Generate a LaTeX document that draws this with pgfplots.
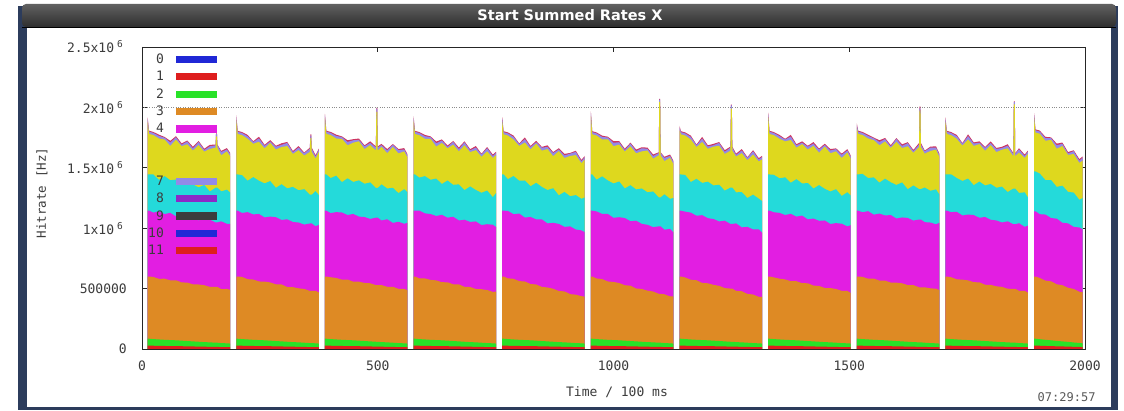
\documentclass[border=0pt]{standalone}
\usepackage{fontspec}
\setmonofont{DejaVu Sans Mono}
\newfontfamily\titlefont{DejaVu Sans}
\usepackage{pgfplots}
\usepackage{pgfplotstable}
\pgfplotsset{compat=1.18}
\definecolor{cR}{RGB}{222,30,30}
\definecolor{cG}{RGB}{40,226,40}
\definecolor{cO}{RGB}{222,138,36}
\definecolor{cM}{RGB}{226,30,226}
\definecolor{cC}{RGB}{36,218,218}
\definecolor{cY}{RGB}{222,216,30}
\definecolor{cP}{RGB}{146,138,232}
\definecolor{cT}{RGB}{206,52,96}
\definecolor{cB}{RGB}{32,40,214}
\definecolor{cV}{RGB}{140,40,200}
\definecolor{cK}{RGB}{60,60,60}
\definecolor{frameblue}{RGB}{44,60,92}
\definecolor{txt}{RGB}{60,60,60}

\pgfplotstableread{
x R G O M C Y P T
12 0 0 0 0 0 0 0 0
12 28 85 600 1145 1445 1880 1905 1917
15 28 85 600 1145 1445 1781 1799 1807
24 27 82 596 1129 1445 1771 1789 1797
36 26 79 581 1139 1400 1742 1764 1774
48 25 76 582 1117 1431 1734 1749 1755
60 24 74 568 1127 1397 1681 1709 1723
72 24 72 569 1098 1403 1733 1753 1762
84 23 69 551 1106 1358 1679 1691 1702
96 22 66 550 1089 1390 1695 1719 1726
108 21 63 535 1094 1361 1643 1661 1674
120 20 60 534 1065 1338 1688 1714 1722
132 19 57 528 1073 1358 1634 1648 1658
144 18 55 514 1070 1304 1656 1678 1690
156 17 52 514 1048 1335 1667 1686 1692
157 17 52 514 1048 1335 1760 1779 1785
159 17 52 514 1048 1335 1760 1779 1785
160 17 52 514 1048 1335 1667 1686 1692
168 16 49 496 1057 1305 1604 1631 1640
180 16 47 497 1036 1319 1636 1652 1663
187 15 45 490 1035 1295 1595 1615 1623
187 0 0 0 0 0 0 0 0
200 0 0 0 0 0 0 0 0
200 28 85 600 1145 1445 1900 1925 1937
203 28 85 600 1145 1445 1780 1798 1806
212 27 82 597 1126 1439 1770 1788 1796
224 26 79 578 1133 1393 1740 1762 1772
236 25 76 575 1114 1423 1699 1714 1720
248 24 74 559 1118 1393 1715 1743 1757
260 24 72 558 1089 1371 1661 1681 1690
272 23 69 551 1096 1390 1706 1718 1729
284 22 66 535 1091 1334 1651 1675 1682
296 21 63 534 1068 1364 1672 1690 1703
308 20 60 513 1074 1330 1680 1706 1714
320 19 57 512 1051 1342 1615 1629 1639
332 18 55 502 1047 1314 1646 1668 1680
344 17 52 497 1030 1323 1601 1620 1626
356 16 49 481 1039 1277 1631 1658 1667
357 16 49 481 1039 1277 1745 1767 1776
359 16 49 481 1039 1277 1745 1767 1776
360 16 49 481 1039 1277 1631 1658 1667
368 16 47 481 1016 1307 1577 1593 1604
375 15 45 468 1027 1275 1630 1650 1658
375 0 0 0 0 0 0 0 0
388 0 0 0 0 0 0 0 0
388 28 85 600 1145 1445 1910 1935 1947
391 28 85 600 1145 1445 1781 1799 1807
400 27 82 594 1125 1415 1771 1789 1797
412 26 79 588 1133 1435 1742 1764 1774
424 25 76 574 1130 1381 1739 1754 1760
436 24 74 575 1109 1413 1686 1714 1728
448 24 72 557 1118 1383 1708 1728 1737
460 23 69 557 1096 1396 1719 1731 1742
472 22 66 547 1092 1368 1655 1679 1686
484 21 63 544 1077 1379 1688 1706 1719
496 20 60 529 1087 1333 1643 1669 1677
497 20 60 529 1087 1333 1963 1989 1997
499 20 60 529 1087 1333 1963 1989 1997
500 20 60 529 1087 1333 1643 1669 1677
508 19 57 529 1064 1363 1674 1688 1698
520 18 55 515 1074 1329 1621 1643 1655
532 17 52 515 1044 1334 1672 1691 1697
544 16 49 498 1053 1290 1619 1646 1655
556 16 47 498 1037 1323 1636 1652 1663
563 15 45 485 1044 1297 1585 1605 1613
563 0 0 0 0 0 0 0 0
576 0 0 0 0 0 0 0 0
576 28 85 600 1145 1445 1890 1915 1927
579 28 85 600 1145 1445 1780 1798 1806
588 27 82 585 1146 1419 1770 1788 1796
600 26 79 584 1123 1431 1740 1762 1772
612 25 76 572 1117 1401 1739 1754 1760
624 24 74 568 1101 1411 1675 1703 1717
636 24 72 553 1111 1366 1706 1726 1735
648 23 69 552 1087 1395 1661 1673 1684
660 22 66 536 1095 1359 1691 1715 1722
672 21 63 535 1064 1363 1637 1655 1668
684 20 60 515 1070 1315 1685 1711 1719
696 19 57 513 1052 1346 1630 1644 1654
708 18 55 497 1056 1316 1646 1668 1680
720 17 52 495 1026 1293 1591 1610 1616
732 16 49 488 1033 1312 1636 1663 1672
744 16 47 473 1029 1257 1582 1598 1609
751 15 45 475 1009 1291 1605 1625 1633
751 0 0 0 0 0 0 0 0
764 0 0 0 0 0 0 0 0
764 28 85 600 1145 1445 1880 1905 1917
767 28 85 600 1145 1445 1777 1795 1803
776 27 82 585 1143 1406 1767 1785 1793
788 26 79 581 1116 1432 1734 1756 1766
800 25 76 562 1121 1393 1681 1696 1702
812 24 74 559 1088 1395 1709 1737 1751
824 24 72 538 1093 1347 1652 1672 1681
836 23 69 534 1073 1376 1700 1712 1723
848 22 66 514 1073 1342 1642 1666 1673
860 21 63 509 1040 1316 1655 1673 1686
872 20 60 499 1044 1331 1596 1622 1630
884 19 57 480 1036 1272 1638 1652 1662
896 18 55 477 1011 1300 1581 1603 1615
908 17 52 454 1015 1265 1598 1617 1623
920 16 49 450 989 1274 1605 1632 1641
932 16 47 437 982 1243 1538 1554 1565
939 15 45 434 967 1255 1570 1590 1598
939 0 0 0 0 0 0 0 0
952 0 0 0 0 0 0 0 0
952 28 85 600 1145 1445 1930 1955 1967
955 28 85 600 1145 1445 1777 1795 1803
964 27 82 584 1139 1401 1767 1785 1793
976 26 79 579 1118 1429 1734 1756 1766
988 25 76 559 1118 1395 1736 1751 1757
1000 24 74 555 1086 1370 1679 1707 1721
1012 24 72 546 1091 1387 1692 1712 1721
1024 23 69 528 1084 1329 1635 1647 1658
1036 22 66 524 1058 1356 1677 1701 1708
1048 21 63 501 1062 1321 1620 1638 1651
1060 20 60 497 1036 1329 1636 1662 1670
1072 19 57 483 1028 1297 1643 1657 1667
1084 18 55 476 1009 1304 1576 1598 1610
1096 17 52 457 1015 1255 1603 1622 1628
1097 17 52 457 1015 1255 2045 2064 2070
1099 17 52 457 1015 1255 2045 2064 2070
1100 17 52 457 1015 1255 1603 1622 1628
1108 16 49 453 988 1281 1555 1582 1591
1120 16 47 435 994 1243 1583 1599 1610
1127 15 45 436 965 1250 1530 1550 1558
1127 0 0 0 0 0 0 0 0
1140 0 0 0 0 0 0 0 0
1140 28 85 600 1145 1445 1810 1835 1847
1143 28 85 600 1145 1445 1777 1795 1803
1152 27 82 592 1137 1441 1767 1785 1793
1164 26 79 573 1129 1382 1734 1756 1766
1176 25 76 569 1103 1409 1671 1686 1692
1188 24 74 547 1108 1375 1714 1742 1756
1200 24 72 544 1083 1385 1657 1677 1686
1212 23 69 531 1076 1354 1675 1687 1698
1224 22 66 523 1056 1360 1682 1706 1713
1236 21 63 504 1062 1311 1615 1633 1646
1248 20 60 500 1035 1336 1641 1667 1675
1249 20 60 500 1035 1336 1990 2016 2024
1251 20 60 500 1035 1336 1990 2016 2024
1252 20 60 500 1035 1336 1641 1667 1675
1260 19 57 481 1040 1297 1593 1607 1617
1272 18 55 478 1007 1299 1621 1643 1655
1284 17 52 456 1011 1250 1563 1582 1588
1296 16 49 451 990 1278 1610 1637 1646
1308 16 47 432 991 1245 1553 1569 1580
1315 15 45 432 963 1225 1570 1590 1598
1315 0 0 0 0 0 0 0 0
1328 0 0 0 0 0 0 0 0
1328 28 85 600 1145 1445 1920 1945 1957
1331 28 85 600 1145 1445 1780 1798 1806
1340 27 82 593 1132 1442 1770 1788 1796
1352 26 79 582 1127 1413 1740 1762 1772
1364 25 76 576 1109 1421 1719 1734 1740
1376 24 74 561 1119 1376 1730 1758 1772
1388 24 72 561 1096 1406 1666 1686 1695
1400 23 69 545 1104 1370 1696 1708 1719
1412 22 66 544 1073 1374 1651 1675 1682
1424 21 63 525 1080 1328 1682 1700 1713
1436 20 60 522 1061 1357 1625 1651 1659
1448 19 57 505 1064 1326 1675 1689 1699
1460 18 55 504 1035 1304 1621 1643 1655
1472 17 52 497 1042 1323 1636 1655 1661
1484 16 49 481 1037 1267 1581 1608 1617
1496 16 47 481 1015 1298 1627 1643 1654
1503 15 45 464 1025 1270 1575 1595 1603
1503 0 0 0 0 0 0 0 0
1516 0 0 0 0 0 0 0 0
1516 28 85 600 1145 1445 1830 1855 1867
1519 28 85 600 1145 1445 1781 1799 1807
1528 27 82 597 1132 1450 1771 1789 1797
1540 26 79 582 1141 1415 1742 1764 1774
1552 25 76 583 1112 1421 1729 1744 1750
1564 24 74 566 1121 1377 1686 1714 1728
1576 24 72 566 1105 1410 1718 1738 1747
1588 23 69 550 1109 1380 1664 1676 1687
1600 22 66 549 1080 1358 1715 1739 1746
1612 21 63 544 1089 1379 1663 1681 1694
1624 20 60 529 1085 1323 1678 1704 1712
1636 19 57 529 1063 1354 1624 1638 1648
1648 18 55 511 1072 1324 1671 1693 1705
1649 18 55 511 1072 1324 1975 1997 2009
1651 18 55 511 1072 1324 1975 1997 2009
1652 18 55 511 1072 1324 1671 1693 1705
1660 17 52 511 1050 1337 1617 1636 1642
1672 16 49 502 1047 1310 1639 1666 1675
1684 16 47 499 1032 1321 1651 1667 1678
1691 15 45 487 1045 1280 1590 1610 1618
1691 0 0 0 0 0 0 0 0
1704 0 0 0 0 0 0 0 0
1704 28 85 600 1145 1445 1880 1905 1917
1707 28 85 600 1145 1445 1780 1798 1806
1716 27 82 594 1133 1446 1770 1788 1796
1728 26 79 577 1136 1415 1740 1762 1772
1740 25 76 574 1105 1391 1684 1699 1705
1752 24 74 568 1113 1411 1735 1763 1777
1764 24 72 553 1109 1356 1681 1701 1710
1776 23 69 552 1086 1386 1696 1708 1719
1788 22 66 532 1093 1354 1641 1665 1672
1800 21 63 531 1070 1366 1687 1705 1718
1812 20 60 519 1064 1335 1630 1656 1664
1824 19 57 514 1047 1344 1650 1664 1674
1836 18 55 499 1057 1299 1661 1683 1695
1848 17 52 498 1033 1328 1596 1615 1621
1849 17 52 498 1033 1328 2025 2044 2050
1851 17 52 498 1033 1328 2025 2044 2050
1852 17 52 498 1033 1328 1596 1615 1621
1860 16 49 482 1041 1292 1626 1653 1662
1872 16 47 482 1011 1297 1582 1598 1609
1879 15 45 466 1021 1255 1615 1635 1643
1879 0 0 0 0 0 0 0 0
1892 0 0 0 0 0 0 0 0
1892 28 85 600 1140 1470 1915 1940 1952
1895 28 85 600 1140 1470 1792 1810 1818
1904 27 81 588 1116 1452 1782 1800 1808
1916 25 76 566 1113 1399 1724 1746 1756
1928 24 72 560 1084 1399 1731 1746 1752
1940 22 67 536 1079 1342 1658 1686 1700
1952 21 63 528 1045 1352 1680 1700 1709
1964 20 59 507 1040 1301 1607 1619 1630
1976 18 54 497 1011 1295 1614 1638 1645
1988 17 50 474 1006 1235 1541 1559 1572
1995 16 47 470 990 1250 1560 1586 1594
1995 0 0 0 0 0 0 0 0
}\data

\newcommand{\sxp}{\hspace{3pt}\raisebox{5pt}{\fontsize{9.5}{9.5}\selectfont 6}\kern4pt}

\begin{document}
\begin{tikzpicture}
% page background and window frame
\fill[white] (0pt,0pt) rectangle (1124pt,410pt);
\fill[frameblue] (18pt,0pt) rectangle (27pt,404pt);
\fill[frameblue] (1111pt,0pt) rectangle (1118pt,404pt);
\fill[frameblue] (18pt,0pt) rectangle (1118pt,3pt);
\shade[top color=black!62, bottom color=black!82, rounded corners=4pt] (22pt,383pt) rectangle (1116pt,406pt);
\draw[black, line width=0.8pt] (22pt,383pt) -- (1116pt,383pt);
\node[text=white, font=\titlefont\bfseries\fontsize{14.5}{14.5}\selectfont] at (570pt,394.5pt) {Start Summed Rates X};

\begin{axis}[
  at={(142pt,61pt)}, anchor=south west,
  scale only axis, width=943pt, height=302pt,
  xmin=0, xmax=2000, ymin=0, ymax=2500,
  xtick={0,500,1000,1500,2000},
  xticklabels={0,500,1000,1500,2000},
  ytick={0,500,1000,1500,2000,2500},
  yticklabels={0,500000,{1x10\sxp},{1.5x10\sxp},{2x10\sxp},{2.5x10\sxp}},
  extra y ticks={2000},
  extra y tick labels={},
  extra y tick style={grid=major, major tick length=0pt},
  grid style={dotted, black!45, line width=0.7pt},
  tick align=inside, major tick length=5pt,
  xtick pos=both, ytick pos=both,
  axis line style={black!85, line width=0.8pt},
  tick style={black!85, line width=0.7pt},
  ticklabel style={font=\ttfamily\fontsize{13}{13}\selectfont, text=txt},
  yticklabel style={inner sep=0pt, xshift=-15pt},
  xticklabel style={inner sep=0pt, yshift=-12pt},
  legend cell align=right,
  legend plot pos=right,
  legend image code/.code={\fill[#1, draw=none] (0pt,-3.6pt) rectangle (41pt,3.6pt);},
  legend style={at={(0,1)}, anchor=north west, xshift=3pt, yshift=-1.5pt,
    draw=none, fill=none, font=\ttfamily\fontsize{13}{13}\selectfont, text=txt,
    nodes={inner sep=0pt, minimum height=17.4pt}, column sep=12pt, row sep=0pt},
]
\addlegendimage{fill=cB}\addlegendentry{0}
\addlegendimage{fill=cR}\addlegendentry{1}
\addlegendimage{fill=cG}\addlegendentry{2}
\addlegendimage{fill=cO}\addlegendentry{3}
\addlegendimage{fill=cM}\addlegendentry{4}
\addlegendimage{empty legend}\addlegendentry{}
\addlegendimage{empty legend}\addlegendentry{}
\addlegendimage{fill=cP}\addlegendentry{7}
\addlegendimage{fill=cV}\addlegendentry{8}
\addlegendimage{fill=cK}\addlegendentry{9}
\addlegendimage{fill=cB}\addlegendentry{10}
\addlegendimage{fill=cR}\addlegendentry{11}

\addplot[fill=cT, draw=none, forget plot] table[x=x, y=T] {\data} \closedcycle;
\addplot[fill=cP, draw=none, forget plot] table[x=x, y=P] {\data} \closedcycle;
\addplot[fill=cY, draw=none, forget plot] table[x=x, y=Y] {\data} \closedcycle;
\addplot[fill=cC, draw=none, forget plot] table[x=x, y=C] {\data} \closedcycle;
\addplot[fill=cM, draw=none, forget plot] table[x=x, y=M] {\data} \closedcycle;
\addplot[fill=cO, draw=none, forget plot] table[x=x, y=O] {\data} \closedcycle;
\addplot[fill=cG, draw=none, forget plot] table[x=x, y=G] {\data} \closedcycle;
\addplot[fill=cR, draw=none, forget plot] table[x=x, y=R] {\data} \closedcycle;
\end{axis}

\draw[black!85, line width=0.8pt] (142pt,61pt) rectangle (1085pt,363pt);
\node[rotate=90, font=\ttfamily\fontsize{12.5}{12.5}\selectfont, text=txt] at (42pt,217pt) {Hitrate [Hz]};
\node[font=\ttfamily\fontsize{13}{13}\selectfont, text=txt] at (617pt,18pt) {Time / 100 ms};
\node[anchor=east, font=\ttfamily\fontsize{12}{12}\selectfont, text=black!65] at (1099pt,13pt) {07:29:57};
\end{tikzpicture}
\end{document}
